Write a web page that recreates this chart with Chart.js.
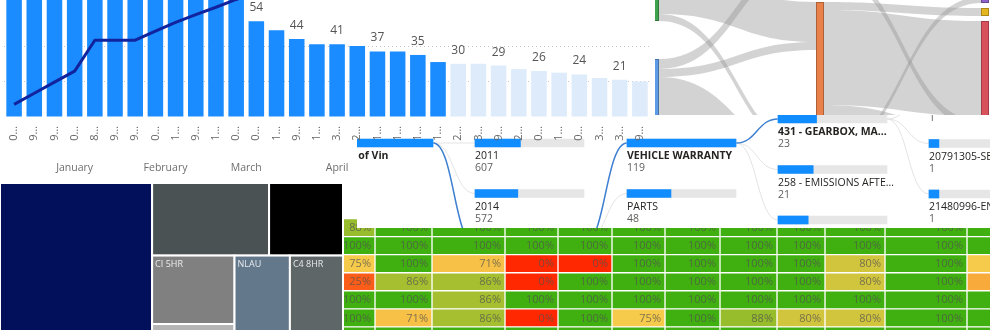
<!DOCTYPE html>
<html lang="en">
<head>
<meta charset="utf-8">
<title>Warranty Claims Dashboard</title>
<script src="https://cdn.jsdelivr.net/npm/chart.js@4.4.1/dist/chart.umd.min.js"></script>
<style>
    html, body { margin: 0; padding: 0; width: 990px; height: 330px; overflow: hidden; background: #fff; }
    .panel { position: absolute; overflow: hidden; }
    .panel canvas { position: absolute; left: 0; top: 0; }
    #heatPanel { left: 318px; top: 183px; width: 732px; height: 162px; z-index: 1; }
    #treePanel { left: 357px; top: 115px; width: 633px; height: 113px; z-index: 2; background: #fff; }
    #barPanel { left: 0; top: 0; width: 655px; height: 183px; z-index: 3; }
    #sankeyPanel { left: 655px; top: 0; width: 335px; height: 115px; z-index: 3; }
    #sankeyPanel canvas { left: -4px; }
    #treemapPanel { left: -1px; top: 182px; width: 345px; height: 162px; z-index: 4; }
</style>
</head>
<body>
<div class="panel" id="heatPanel"><canvas id="heatChart" width="732" height="162"></canvas></div>
<div class="panel" id="treePanel"><canvas id="treeChart" width="633" height="113"></canvas></div>
<div class="panel" id="barPanel"><canvas id="barChart" width="655" height="183"></canvas></div>
<div class="panel" id="sankeyPanel"><canvas id="sankeyChart" width="338" height="115"></canvas></div>
<div class="panel" id="treemapPanel"><canvas id="treemapChart" width="345" height="162"></canvas></div>

<script>
// Claims per VIN, sorted, with running line
const barLabels = ['0…', '9…', '9…', '0…', '8…', '9…', '9…', '0…', '1…', '9…', '1…', '0…', '0…', '1…', '9…', '1…',
                   '3…', '2…', '1…', '1…', '1…', '1…', '2…', '3…', '9…', '2…', '0…', '1…', '0…', '3…', '3…', '9…'];
const barValues = [131, 118, 104, 96, 88, 82, 77, 73, 70, 68, 67, 67, 54, 49, 44, 41,
                   41, 40, 37, 37, 35, 31, 30, 30, 29, 27, 26, 25, 24, 22, 21, 20];
const lineValues = [7.1, 13.4, 19.7, 25.9, 43.3, 43.3, 43.3, 48.4, 53.4, 57.7, 61.9, 66.3, 70];
const monthLabels = ['January', 'February', 'March', 'April'];
const monthBarCounts = [7, 2, 6, 3];

// Sankey flows (node order per column is top to bottom)
const sankeyNodeColumn = [0, 0, 1, 1, 1, 2, 2, 2, 2];
const sankeyFrom = [0, 0, 1, 1, 1, 2, 2, 3, 3, 3, 4, 4];
const sankeyTo = [3, 4, 2, 3, 4, 5, 8, 6, 7, 8, 5, 8];
const sankeyValues = [40, 7, 10, 8, 74, 14, 8, 8, 95, 18, 6, 75];

// Decomposition tree levels
const treeLabels = [
    ['Count of Vin'],
    ['2011', '2014', '2013'],
    ['VEHICLE WARRANTY', 'PARTS'],
    ['431 - GEARBOX, MA...', '258 - EMISSIONS AFTE...', '851 - UPHOLSTERY SO...'],
    ['20783342-GE...', '20791305-SE...', '21480996-EN...']
];
const treeValues = [[1456], [607, 572, 277], [119, 48], [23, 21, 18], [1, 1, 1]];
const treeBarMax = [1456, 1456, 119, 65, 11];
const treeSelected = [0, 2, 0, 0, -1];

// Treemap
const treemapLabels = ['', '', '', 'CI 5HR', '', 'NLAU', 'C4 8HR'];
const treemapValues = [608, 212, 134, 141, 39, 121, 116];
const treemapNesting = [0, [[1, 2], [[3, 4], 5, 6]]];

// Completion rate table (%)
const heatValues = [
    [88, 100, 100, 100, 100, 100, 100, 100, 100, 100, 100, 100],
    [100, 100, 100, 100, 100, 100, 100, 100, 100, 100, 100, 100],
    [75, 100, 71, 0, 0, 100, 100, 100, 100, 80, 100, 75],
    [25, 86, 86, 0, 100, 100, 100, 100, 100, 80, 100, 60],
    [100, 100, 86, 100, 100, 100, 100, 100, 100, 100, 100, 100],
    [100, 71, 86, 0, 100, 75, 100, 88, 80, 80, 100, 100],
    [100, 100, 100, 100, 100, 100, 100, 100, 100, 100, 100, 100]
];

// Layout and styles
const HIGHLIGHT_END = 22;
const SANKEY_NODE_W = 8;
const SANKEY_COL_TOP = [-26, -48, -17];
const SANKEY_COL_PAD = [38, 28, 5];
const SANKEY_COLORS = ['#3fa24f', '#5c9ae6', '#8c8c8c', '#e9814b', '#7fb2e5', '#8a60c9', '#e3b521', '#d8525c', '#6fb6a0'];
const TREE_COL_X = [-33, 118, 270, 421, 572];
const TREE_FIRST_ROW = [28, 28, 28, 4, -22];
const TREE_PITCH = 50.5;
const TREE_BOX_W = 109;
const TREEMAP_COLORS = ['#020f5a', '#4b5253', '#000000', '#808080', '#b4b4b4', '#64788c', '#5f6668'];
const HEAT_COL_WIDTHS = [57, 57, 73, 53, 54, 53, 55, 57, 48, 60, 82, 83];
const FONT = "'Segoe UI', 'Open Sans', sans-serif";

Chart.defaults.font.family = FONT;
Chart.defaults.animation = false;
Chart.defaults.responsive = false;
Chart.defaults.plugins.legend.display = false;
Chart.defaults.plugins.tooltip.enabled = false;

// Bar + line chart
const monthCenters = [];
let monthStart = 0;
monthBarCounts.forEach(n => {
    monthCenters.push(monthStart + (n - 1) / 2);
    monthStart += n;
});

const barValueLabels = {
    id: 'barValueLabels',
    afterDatasetsDraw(chart) {
        const ctx = chart.ctx;
        const meta = chart.getDatasetMeta(1);
        ctx.save();
        ctx.font = '12px ' + FONT;
        ctx.fillStyle = '#555';
        ctx.textAlign = 'center';
        ctx.textBaseline = 'alphabetic';
        meta.data.forEach((bar, i) => {
            if (i % 2) return;
            ctx.fillText(String(barValues[i]), bar.x, bar.y - 10);
        });
        ctx.restore();
    }
};

// Vertical category labels, read bottom to top with the ellipsis next to the axis
const verticalTickLabels = {
    id: 'verticalTickLabels',
    afterDraw(chart) {
        const ctx = chart.ctx;
        const xs = chart.scales.x;
        ctx.save();
        ctx.font = '11px ' + FONT;
        ctx.fillStyle = '#666';
        ctx.textAlign = 'right';
        ctx.textBaseline = 'middle';
        barLabels.forEach((label, i) => {
            ctx.save();
            ctx.translate(xs.getPixelForValue(i), chart.chartArea.bottom + 9);
            ctx.rotate(-Math.PI / 2);
            ctx.fillText(label, 0, 0);
            ctx.restore();
        });
        ctx.restore();
    }
};

new Chart(document.getElementById('barChart'), {
    type: 'bar',
    data: {
        labels: barLabels,
        datasets: [
            {
                type: 'line',
                data: lineValues,
                borderColor: '#12239E',
                borderWidth: 3,
                pointRadius: 0,
                tension: 0,
                borderJoinStyle: 'round',
                order: 0
            },
            {
                type: 'bar',
                data: barValues,
                backgroundColor: barValues.map((_, i) => i < HIGHLIGHT_END ? '#1A8CFF' : '#DDEBFA'),
                barPercentage: 0.77,
                categoryPercentage: 1,
                order: 1
            }
        ]
    },
    options: {
        layout: { padding: { left: 4, right: 5, top: 0, bottom: 8 } },
        scales: {
            x: {
                weight: 0,
                grid: { display: false },
                border: { display: false },
                ticks: { display: false },
                afterFit: s => { s.height = 24; }
            },
            xMonth: {
                type: 'linear',
                position: 'bottom',
                weight: 1,
                offset: false,
                min: -0.5,
                max: barValues.length - 0.5,
                grid: { display: false },
                border: { display: false },
                afterBuildTicks: axis => { axis.ticks = monthCenters.map(v => ({ value: v })); },
                ticks: {
                    autoSkip: false, maxRotation: 0, padding: 13,
                    color: '#6e6e6e', font: { size: 10.5 },
                    callback: (v, i) => monthLabels[i]
                },
                afterFit: s => { s.height = 34; }
            },
            y: {
                min: 0,
                max: 66,
                ticks: { display: false, stepSize: 20 },
                grid: {
                    drawTicks: false,
                    color: ctx => (ctx.tick && ctx.tick.value > 0 && ctx.tick.value % 20 === 0) ? '#c4c4c4' : 'transparent'
                },
                border: { display: false, dash: [1, 3] }
            }
        }
    },
    plugins: [barValueLabels, verticalTickLabels]
});

// Sankey
function layoutSankey() {
    const n = sankeyNodeColumn.length;
    const inSum = new Array(n).fill(0);
    const outSum = new Array(n).fill(0);
    sankeyValues.forEach((v, k) => {
        outSum[sankeyFrom[k]] += v;
        inSum[sankeyTo[k]] += v;
    });
    const y0 = [], y1 = [];
    const cursor = SANKEY_COL_TOP.slice();
    for (let i = 0; i < n; i++) {
        const c = sankeyNodeColumn[i];
        y0[i] = cursor[c];
        y1[i] = y0[i] + Math.max(inSum[i], outSum[i]);
        cursor[c] = y1[i] + SANKEY_COL_PAD[c];
    }
    const links = sankeyValues.map(() => ({}));
    const keys = sankeyValues.map((_, k) => k);
    const outPos = y0.slice(), inPos = y0.slice();
    keys.slice().sort((a, b) => y0[sankeyTo[a]] - y0[sankeyTo[b]]).forEach(k => {
        const s = sankeyFrom[k];
        links[k].sy0 = outPos[s];
        links[k].sy1 = outPos[s] + sankeyValues[k];
        outPos[s] += sankeyValues[k];
    });
    keys.slice().sort((a, b) => y0[sankeyFrom[a]] - y0[sankeyFrom[b]]).forEach(k => {
        const t = sankeyTo[k];
        links[k].ty0 = inPos[t];
        links[k].ty1 = inPos[t] + sankeyValues[k];
        inPos[t] += sankeyValues[k];
    });
    return { y0, y1, links };
}

const sankeyDraw = {
    id: 'sankeyDraw',
    afterDatasetsDraw(chart) {
        const ctx = chart.ctx;
        const xs = chart.scales.x, ys = chart.scales.y;
        const lay = layoutSankey();
        ctx.save();
        // Flow bands
        ctx.fillStyle = 'rgba(150, 150, 150, 0.42)';
        lay.links.forEach((l, k) => {
            const x0 = xs.getPixelForValue(sankeyNodeColumn[sankeyFrom[k]]) + SANKEY_NODE_W;
            const x1 = xs.getPixelForValue(sankeyNodeColumn[sankeyTo[k]]);
            const xm = (x0 + x1) / 2;
            const a0 = ys.getPixelForValue(l.sy0), a1 = ys.getPixelForValue(l.sy1);
            const b0 = ys.getPixelForValue(l.ty0), b1 = ys.getPixelForValue(l.ty1);
            ctx.beginPath();
            ctx.moveTo(x0, a0);
            ctx.bezierCurveTo(xm, a0, xm, b0, x1, b0);
            ctx.lineTo(x1, b1);
            ctx.bezierCurveTo(xm, b1, xm, a1, x0, a1);
            ctx.closePath();
            ctx.fill();
        });
        // Nodes
        sankeyNodeColumn.forEach((c, i) => {
            const x = xs.getPixelForValue(c);
            const top = ys.getPixelForValue(lay.y0[i]);
            const h = ys.getPixelForValue(lay.y1[i]) - top;
            ctx.fillStyle = SANKEY_COLORS[i];
            ctx.fillRect(x, top, SANKEY_NODE_W, h);
            ctx.strokeStyle = 'rgba(0, 0, 0, 0.25)';
            ctx.lineWidth = 1;
            ctx.strokeRect(x + 0.5, top + 0.5, SANKEY_NODE_W - 1, h - 1);
        });
        ctx.restore();
    }
};

new Chart(document.getElementById('sankeyChart'), {
    type: 'scatter',
    data: { datasets: [] },
    options: {
        layout: { padding: { left: 0, right: SANKEY_NODE_W, top: 0, bottom: 0 } },
        scales: {
            x: { type: 'linear', min: 0, max: 2, offset: false, display: false },
            y: { type: 'linear', min: 0, max: 115, reverse: true, offset: false, display: false }
        }
    },
    plugins: [sankeyDraw]
});

// Decomposition tree
const treeNodes = [];
treeLabels.forEach((labels, level) => {
    labels.forEach((label, i) => {
        treeNodes.push({
            level, i, label,
            value: treeValues[level][i],
            x0: TREE_COL_X[level],
            center: TREE_FIRST_ROW[level] + i * TREE_PITCH
        });
    });
});

function findNode(level, i) {
    return treeNodes.find(n => n.level === level && n.i === i);
}

const treeDecor = {
    id: 'treeDecor',
    beforeDatasetsDraw(chart) {
        const ctx = chart.ctx;
        const xs = chart.scales.x, ys = chart.scales.y;
        const curve = (p, c) => {
            const px = xs.getPixelForValue(p.x0 + TREE_BOX_W), py = ys.getPixelForValue(p.center);
            const cx = xs.getPixelForValue(c.x0), cy = ys.getPixelForValue(c.center);
            ctx.beginPath();
            ctx.moveTo(px, py);
            ctx.bezierCurveTo((px + cx) / 2, py, (px + cx) / 2, cy, cx, cy);
            ctx.stroke();
        };
        ctx.save();
        const onPath = [];
        treeNodes.filter(n => n.level > 0).forEach(n => {
            const parent = findNode(n.level - 1, treeSelected[n.level - 1]);
            if (n.i === treeSelected[n.level]) { onPath.push([parent, n]); return; }
            ctx.strokeStyle = '#e3e3e3';
            ctx.lineWidth = 1;
            curve(parent, n);
        });
        ctx.strokeStyle = '#3d7fd0';
        ctx.lineWidth = 1.5;
        onPath.forEach(([p, n]) => curve(p, n));
        ctx.restore();
    },
    afterDatasetsDraw(chart) {
        const ctx = chart.ctx;
        const xs = chart.scales.x, ys = chart.scales.y;
        ctx.save();
        ctx.textAlign = 'left';
        ctx.textBaseline = 'alphabetic';
        treeNodes.forEach(n => {
            const x = xs.getPixelForValue(n.x0);
            const y = ys.getPixelForValue(n.center);
            const bold = n.i === treeSelected[n.level];
            ctx.font = (bold ? '700 ' : '400 ') + '10.5px ' + FONT;
            ctx.fillStyle = '#252423';
            ctx.fillText(n.label, x, y + 16);
            ctx.font = '10.5px ' + FONT;
            ctx.fillStyle = '#605e5c';
            ctx.fillText(String(n.value), x, y + 28);
        });
        ctx.restore();
    }
};

new Chart(document.getElementById('treeChart'), {
    type: 'bar',
    data: {
        datasets: [
            {
                data: treeNodes.map(n => ({ x: [n.x0, n.x0 + TREE_BOX_W * n.value / treeBarMax[n.level]], y: n.center })),
                backgroundColor: '#118DFF'
            },
            {
                data: treeNodes.map(n => ({ x: [n.x0, n.x0 + TREE_BOX_W], y: n.center })),
                backgroundColor: '#e6e6e6'
            }
        ]
    },
    options: {
        indexAxis: 'y',
        grouped: false,
        barThickness: 8,
        maxBarThickness: 8,
        borderSkipped: false,
        layout: { padding: 0 },
        scales: {
            x: { type: 'linear', min: 0, max: 633, offset: false, display: false },
            y: { type: 'linear', min: 0, max: 113, reverse: true, offset: false, display: false, ticks: { stepSize: 100 } }
        }
    },
    plugins: [treeDecor]
});

// Treemap (slice and dice)
function groupValue(node) {
    return typeof node === 'number' ? treemapValues[node] : node.reduce((s, c) => s + groupValue(c), 0);
}

function sliceDice(node, x0, y0, x1, y1, depth, out) {
    if (typeof node === 'number') {
        out[node] = { x0, y0, x1, y1 };
        return;
    }
    const total = groupValue(node);
    let pos = depth % 2 === 0 ? x0 : y0;
    node.forEach(child => {
        const f = groupValue(child) / total;
        if (depth % 2 === 0) {
            const w = (x1 - x0) * f;
            sliceDice(child, pos, y0, pos + w, y1, depth + 1, out);
            pos += w;
        } else {
            const h = (y1 - y0) * f;
            sliceDice(child, x0, pos, x1, pos + h, depth + 1, out);
            pos += h;
        }
    });
}

const treemapDraw = {
    id: 'treemapDraw',
    afterDatasetsDraw(chart) {
        const ctx = chart.ctx;
        const xs = chart.scales.x, ys = chart.scales.y;
        const rects = [];
        sliceDice(treemapNesting, 0, 0, 1, 1, 0, rects);
        ctx.save();
        rects.forEach((r, i) => {
            const x = xs.getPixelForValue(r.x0), y = ys.getPixelForValue(r.y0);
            const w = xs.getPixelForValue(r.x1) - x, h = ys.getPixelForValue(r.y1) - y;
            ctx.fillStyle = TREEMAP_COLORS[i];
            ctx.fillRect(x, y, w, h);
            ctx.strokeStyle = '#fff';
            ctx.lineWidth = 2;
            ctx.strokeRect(x, y, w, h);
            if (treemapLabels[i]) {
                ctx.font = '9px ' + FONT;
                ctx.fillStyle = 'rgba(255, 255, 255, 0.85)';
                ctx.textBaseline = 'top';
                ctx.fillText(treemapLabels[i], x + 3, y + 4);
            }
        });
        ctx.restore();
    }
};

new Chart(document.getElementById('treemapChart'), {
    type: 'scatter',
    data: { datasets: [] },
    options: {
        layout: { padding: 1 },
        scales: {
            x: { type: 'linear', min: 0, max: 1, offset: false, display: false },
            y: { type: 'linear', min: 0, max: 1, reverse: true, offset: false, display: false }
        }
    },
    plugins: [treemapDraw]
});

// Completion table as a heatmap
function heatColor(v) {
    const stops = [[0, [255, 40, 0]], [75, [246, 202, 74]], [100, [64, 176, 16]]];
    let k = 0;
    while (k < stops.length - 2 && v > stops[k + 1][0]) k++;
    const [va, ca] = stops[k], [vb, cb] = stops[k + 1];
    const t = Math.min(1, Math.max(0, (v - va) / (vb - va)));
    const c = ca.map((a, j) => Math.round(a + (cb[j] - a) * t));
    return `rgb(${c[0]}, ${c[1]}, ${c[2]})`;
}

const heatColStarts = [];
HEAT_COL_WIDTHS.reduce((acc, w) => { heatColStarts.push(acc); return acc + w; }, 0);

const heatLabels = {
    id: 'heatLabels',
    afterDatasetsDraw(chart) {
        const ctx = chart.ctx;
        ctx.save();
        ctx.font = '11px ' + FONT;
        ctx.fillStyle = 'rgba(80, 80, 80, 0.72)';
        ctx.textAlign = 'right';
        ctx.textBaseline = 'middle';
        chart.data.datasets.forEach((ds, c) => {
            chart.getDatasetMeta(c).data.forEach((bar, r) => {
                ctx.fillText(heatValues[r][c] + '%', bar.x - 4, bar.y + 0.5);
            });
        });
        ctx.restore();
    }
};

new Chart(document.getElementById('heatChart'), {
    type: 'bar',
    data: {
        labels: heatValues.map((_, r) => r),
        datasets: HEAT_COL_WIDTHS.map((w, c) => ({
            data: heatValues.map(() => [heatColStarts[c], heatColStarts[c] + w]),
            backgroundColor: heatValues.map(row => heatColor(row[c])),
            borderColor: 'rgba(255, 255, 255, 0.3)',
            borderWidth: 1,
            borderSkipped: false,
            barPercentage: 1,
            categoryPercentage: 1
        }))
    },
    options: {
        indexAxis: 'y',
        grouped: false,
        layout: { padding: { top: 35.5, left: 0, right: 0, bottom: 0 } },
        scales: {
            x: { type: 'linear', min: 0, max: 732, offset: false, display: false },
            y: { type: 'category', offset: true, display: false }
        }
    },
    plugins: [heatLabels]
});
</script>
</body>
</html>
